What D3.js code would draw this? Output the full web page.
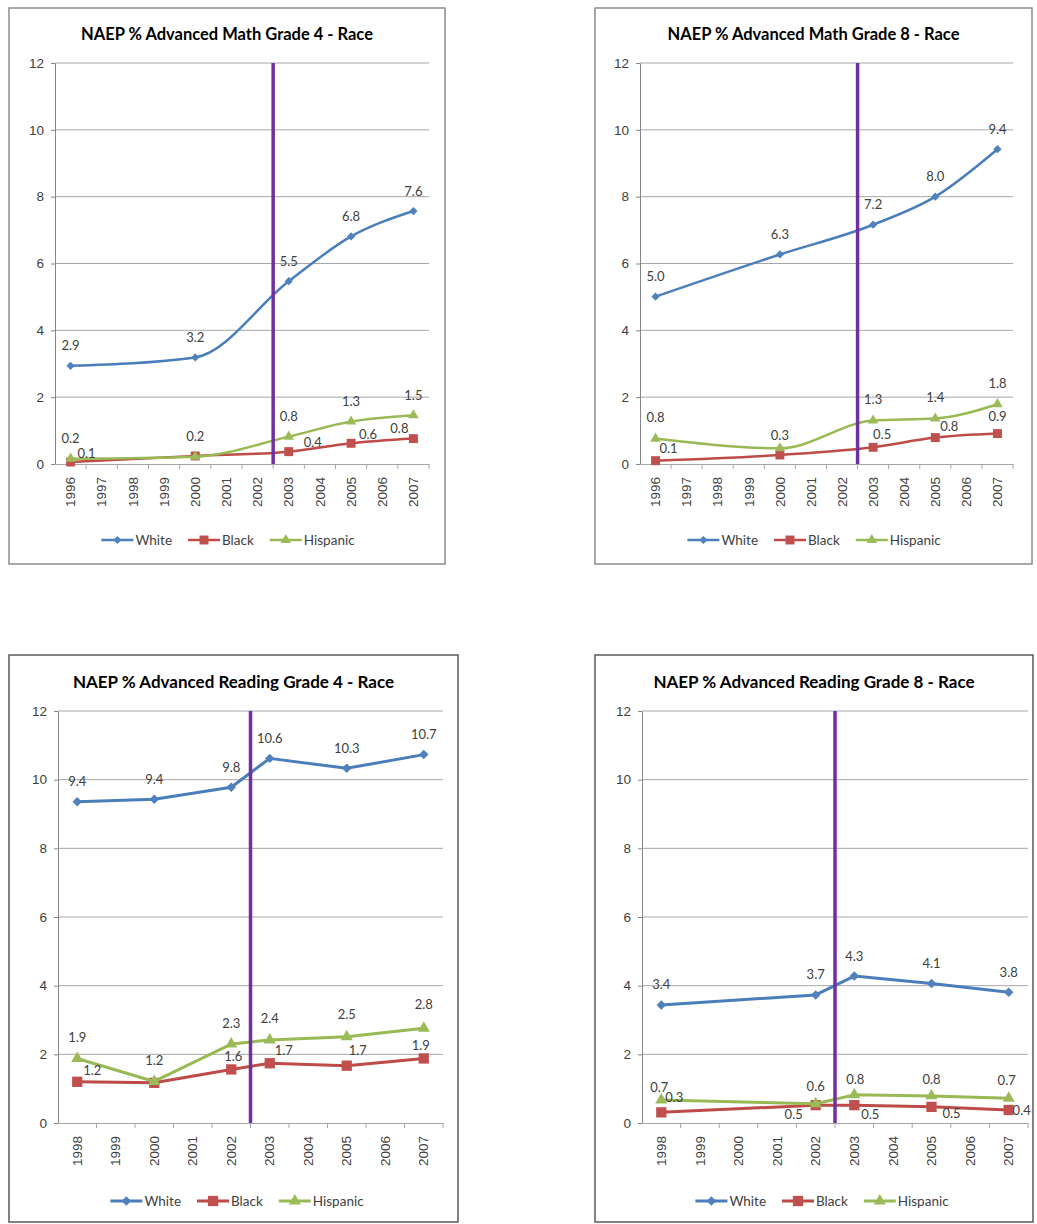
<!DOCTYPE html>
<html>
<head>
<meta charset="utf-8">
<script src="https://cdn.jsdelivr.net/npm/d3@7"></script>
<style>
  body { margin: 0; background: #fff; }
  svg { display: block; font-family: Lato, "Open Sans", sans-serif; }
</style>
</head>
<body>
<svg id="chart" width="1037" height="1224"></svg>
<script>
// Categories on the x axis
const mathYears = ["1996", "1997", "1998", "1999", "2000", "2001", "2002", "2003", "2004", "2005", "2006", "2007"];
const readYears = ["1998", "1999", "2000", "2001", "2002", "2003", "2004", "2005", "2006", "2007"];
const seriesNames = ["White", "Black", "Hispanic"];
const yTicks = [0, 2, 4, 6, 8, 10, 12];
// the purple line sits just before this year
const lineBeforeYear = "2003";

// Years with a test
const math4Tested = ["1996", "2000", "2003", "2005", "2007"];
const math8Tested = ["1996", "2000", "2003", "2005", "2007"];
const read4Tested = ["1998", "2000", "2002", "2003", "2005", "2007"];
const read8Tested = ["1998", "2002", "2003", "2005", "2007"];

// % of students at the advanced level
const math4White = [2.94, 3.19, 5.47, 6.81, 7.57];
const math4Black = [0.06, 0.24, 0.37, 0.62, 0.76];
const math4Hispanic = [0.16, 0.22, 0.82, 1.27, 1.46];

const math8White = [5.01, 6.27, 7.16, 8.0, 9.42];
const math8Black = [0.1, 0.27, 0.5, 0.79, 0.91];
const math8Hispanic = [0.76, 0.47, 1.3, 1.36, 1.79];

const read4White = [9.36, 9.43, 9.78, 10.62, 10.33, 10.73];
const read4Black = [1.2, 1.17, 1.56, 1.74, 1.67, 1.88];
const read4Hispanic = [1.88, 1.21, 2.3, 2.42, 2.51, 2.76];

const read8White = [3.44, 3.73, 4.28, 4.06, 3.81];
const read8Black = [0.31, 0.52, 0.52, 0.47, 0.38];
const read8Hispanic = [0.67, 0.56, 0.82, 0.79, 0.72];

const colors = { White: "#4a7ebb", Black: "#be4b48", Hispanic: "#98b954" };
const fmt = d3.format(".1f");

const svg = d3.select("#chart");

// panel layout and label placement
const panels = [
  {
    title: "NAEP % Advanced Math Grade 4 - Race",
    box: [9, 8, 436, 556], plot: [55, 429, 63, 464], titleY: 34, titleSize: 16.5,
    legendX: 228, legendY: 540, border: "#8c8c8c",
    years: mathYears, tested: math4Tested,
    values: [math4White, math4Black, math4Hispanic],
    curve: d3.curveMonotoneX, lineW: 2.5, mark: 1,
    hidden: { Black: [1] },
    offsets: {
      White: [[0, -20]],
      Black: [[16, -9], [0, 0], [24, -9], [17, -9], [-14, -10]],
      Hispanic: [[0, -20]]
    }
  },
  {
    title: "NAEP % Advanced Math Grade 8 - Race",
    box: [595, 8, 437, 556], plot: [640, 1013, 63, 464], titleY: 34, titleSize: 16.5,
    legendX: 814, legendY: 540, border: "#8c8c8c",
    years: mathYears, tested: math8Tested,
    values: [math8White, math8Black, math8Hispanic],
    curve: d3.curveMonotoneX, lineW: 2.5, mark: 1,
    hidden: { Hispanic: [1] },
    offsets: {
      White: [[0, -20]],
      Black: [[13, -12], [0, -20], [9, -13], [14, -11], [0, -17]],
      Hispanic: [[0, -21]]
    }
  },
  {
    title: "NAEP % Advanced Reading Grade 4 - Race",
    box: [9, 655, 449, 567], plot: [58, 443, 711, 1123], titleY: 682, titleSize: 17,
    legendX: 237, legendY: 1201, border: "#5a5a5a",
    years: readYears, tested: read4Tested,
    values: [read4White, read4Black, read4Hispanic],
    curve: d3.curveLinear, lineW: 3, mark: 1.15,
    hidden: { Black: [1] },
    offsets: {
      White: [[0, -20]],
      Black: [[15, -11], [0, 0], [2, -13], [14, -13], [11, -15], [-3, -13]],
      Hispanic: [[0, -21], [0, -21], [0, -21], [0, -21], [0, -22], [0, -24]]
    }
  },
  {
    title: "NAEP % Advanced Reading Grade 8 - Race",
    box: [595, 655, 438, 567], plot: [642, 1028, 711, 1123], titleY: 682, titleSize: 17,
    legendX: 822, legendY: 1201, border: "#5a5a5a",
    years: readYears, tested: read8Tested,
    values: [read8White, read8Black, read8Hispanic],
    curve: d3.curveLinear, lineW: 3, mark: 1.15,
    hidden: {},
    offsets: {
      White: [[0, -20]],
      Black: [[13, -15], [-22, 9], [16, 9], [20, 7], [13, 0]],
      Hispanic: [[-2, -13], [0, -17], [1, -15], [0, -16], [-2, -18]]
    }
  }
];

// marker drawing per series
function addMarker(sel, name, k) {
  if (name === "White") {
    sel.append("path")
      .attr("d", d3.symbol(d3.symbolSquare, 34 * k * k)())
      .attr("transform", "rotate(45)")
      .attr("fill", "#4f81bd");
  } else if (name === "Black") {
    sel.append("path")
      .attr("d", d3.symbol(d3.symbolSquare, 80 * k * k)())
      .attr("fill", "#c0504d");
  } else {
    sel.append("path")
      .attr("d", d3.symbol(d3.symbolTriangle, 48 * k * k)())
      .attr("fill", "#9bbb59");
  }
}

panels.forEach(p => {
  const [bx, by, bw, bh] = p.box;
  const [left, right, top, bottom] = p.plot;
  const g = svg.append("g");

  // frame
  g.append("rect")
    .attr("x", bx).attr("y", by).attr("width", bw).attr("height", bh)
    .attr("fill", "#fff").attr("stroke", p.border).attr("stroke-width", 1.5);

  g.append("text")
    .attr("x", bx + bw / 2).attr("y", p.titleY)
    .attr("text-anchor", "middle").attr("dy", "0.35em")
    .attr("font-size", p.titleSize).attr("font-weight", "bold")
    .attr("fill", "#000")
    .text(p.title);

  const x = d3.scaleBand().domain(p.years).range([left, right]);
  const y = d3.scaleLinear().domain([0, 12]).range([bottom, top]);
  const cx = yr => x(yr) + x.bandwidth() / 2;

  // gridlines
  g.append("g").selectAll("line")
    .data(yTicks.filter(t => t > 0))
    .join("line")
    .attr("x1", left).attr("x2", right)
    .attr("y1", d => y(d)).attr("y2", d => y(d))
    .attr("stroke", "#a6a6a6").attr("stroke-width", 1);

  // y axis
  const yAxis = g.append("g")
    .attr("transform", `translate(${left},0)`)
    .call(d3.axisLeft(y).tickValues(yTicks).tickSize(4).tickSizeOuter(0).tickPadding(7));
  yAxis.select(".domain").attr("stroke", "#868686");
  yAxis.selectAll(".tick line").attr("stroke", "#868686");
  yAxis.selectAll("text").attr("font-size", 13.5).attr("fill", "#404040").attr("font-family", null);

  // x axis, labels rotated
  const xAxis = g.append("g")
    .attr("transform", `translate(0,${bottom})`)
    .call(d3.axisBottom(x).tickSize(0).tickSizeOuter(0));
  xAxis.select(".domain").attr("stroke", "#a6a6a6");
  xAxis.selectAll("text")
    .attr("font-size", 13.5).attr("fill", "#404040").attr("font-family", null)
    .attr("transform", "rotate(-90)")
    .attr("text-anchor", "end")
    .attr("x", -13).attr("y", 0).attr("dy", "0.35em");

  // tick marks between categories
  g.append("g").selectAll("line")
    .data(p.years.slice(1).concat(["end"]))
    .join("line")
    .attr("x1", d => d === "end" ? right : x(d))
    .attr("x2", d => d === "end" ? right : x(d))
    .attr("y1", bottom).attr("y2", bottom + 5)
    .attr("stroke", "#a6a6a6");

  // series
  const line = d3.line()
    .x((d, i) => cx(p.tested[i]))
    .y(d => y(d))
    .curve(p.curve);

  seriesNames.forEach((name, si) => {
    const vals = p.values[si];
    g.append("path")
      .datum(vals)
      .attr("d", line)
      .attr("fill", "none")
      .attr("stroke", colors[name])
      .attr("stroke-width", p.lineW)
      .attr("stroke-linejoin", "round");

    g.append("g").selectAll("g")
      .data(vals)
      .join("g")
      .attr("transform", (d, i) => `translate(${cx(p.tested[i])},${y(d)})`)
      .each(function () { addMarker(d3.select(this), name, p.mark); });
  });

  // purple marker line between 2002 and 2003
  g.append("line")
    .attr("x1", x(lineBeforeYear)).attr("x2", x(lineBeforeYear))
    .attr("y1", y(12)).attr("y2", y(0))
    .attr("stroke", "#7030a0").attr("stroke-width", 3.5);

  // value labels
  seriesNames.forEach((name, si) => {
    const vals = p.values[si];
    const offs = p.offsets[name];
    const hide = p.hidden[name] || [];
    g.append("g").selectAll("text")
      .data(vals.map((v, i) => ({ v, i })).filter(d => !hide.includes(d.i)))
      .join("text")
      .attr("x", d => cx(p.tested[d.i]) + (offs[d.i] || offs[0])[0])
      .attr("y", d => y(d.v) + (offs[d.i] || offs[0])[1])
      .attr("dy", "0.35em")
      .attr("text-anchor", "middle")
      .attr("font-size", 13)
      .attr("fill", "#404040")
      .text(d => fmt(d.v));
  });

  // legend
  const leg = g.append("g");
  const items = [];
  seriesNames.forEach(name => {
    const it = leg.append("g");
    it.append("line")
      .attr("x1", 0).attr("x2", 32).attr("y1", 0).attr("y2", 0)
      .attr("stroke", colors[name]).attr("stroke-width", p.lineW);
    const m = it.append("g").attr("transform", "translate(16,0)");
    addMarker(m, name, p.mark);
    const t = it.append("text")
      .attr("x", 34).attr("dy", "0.35em")
      .attr("font-size", 13.5).attr("fill", "#404040")
      .text(name);
    const w = 34 + t.node().getComputedTextLength();
    items.push({ it, w });
  });
  const total = d3.sum(items, d => d.w) + 16 * (items.length - 1);
  let pos = p.legendX - total / 2;
  items.forEach(d => {
    d.it.attr("transform", `translate(${pos},${p.legendY})`);
    pos += d.w + 16;
  });
});
</script>
</body>
</html>
